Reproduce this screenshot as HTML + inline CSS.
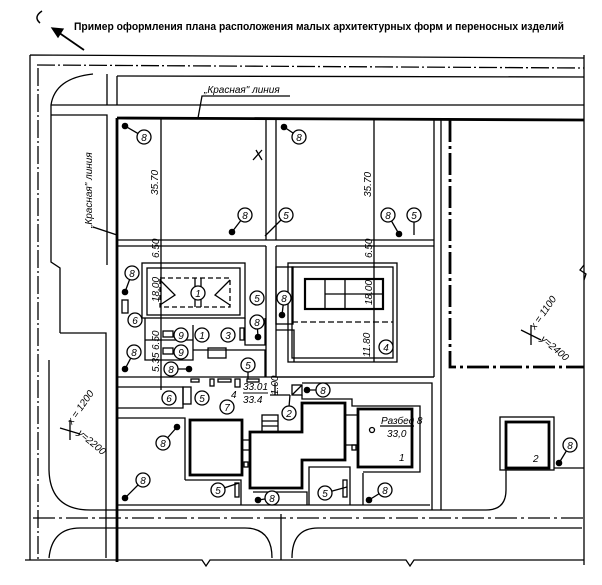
<!DOCTYPE html>
<html><head><meta charset="utf-8"><style>
html,body{margin:0;padding:0;background:#fff}
svg{display:block}
text{font-family:"Liberation Sans",sans-serif;fill:#000}
.t{font-style:italic;font-size:10px}
.n{font-style:italic;font-size:10px;text-anchor:middle}
</style></head><body>
<svg width="602" height="585" viewBox="0 0 602 585" xmlns="http://www.w3.org/2000/svg">
<defs>
<g id="c"><circle r="7" fill="#fff" stroke="#000" stroke-width="1.3"/></g>
</defs>
<g fill="none" stroke="#000" stroke-width="1.3">
<path d="M84,50 L55,30" stroke-width="1.8"/><path d="M52,28 L63,29 L58,37 Z" fill="#000"/>
<path d="M42,11 Q33,17 40,23" stroke-width="1.5"/>
<path d="M30,55 L584,58 M30,55 L30,560 M584,55 L584,565"/>
<path d="M37,65 L584,68" stroke-dasharray="18,3,2,3"/>
<path d="M38,68 L38,562" stroke-dasharray="18,3,2,3"/>
<path d="M117,76 L584,77 M93,74 Q55,78 51,105 L51,262 L60,268 L60,333"/>
<path d="M107,74 L107,105 M117,76 L117,105"/>
<path d="M51,105 L584,105"/>
<path d="M117,118 L584,120" stroke-width="2.8"/>
<path d="M51,115 L107,115 L107,265 M60,333 L106,333 L106,558"/>
<path d="M117,118 L117,562" stroke-width="2.8"/>
<path d="M49,360 L49,470 Q50,510 90,510 L486,510 Q506,510 506,490 L506,470"/>
<path d="M198,118 L202,96 L290,96"/>
<path d="M93,227 L117,235"/>
<path d="M266,120 L266,240 M276,120 L276,240"/>
<path d="M117,240 L434,240 M117,246 L266,246 M276,246 L434,246"/>
<path d="M434,120 L434,377 M441,120 L441,510"/>
<path d="M450,120 L450,367 L584,367" stroke-width="2.8" stroke-dasharray="22,4,3,4"/>
<path d="M161,118 L161,390 M374,118 L374,362"/>
<path d="M266,246 L266,377 M276,246 L276,330"/>
<rect x="142" y="263" width="103" height="55"/>
<rect x="147" y="268" width="93" height="47"/>
<rect x="160" y="278" width="70" height="29" stroke-dasharray="5,3"/>
<path d="M195,278 L195,307 M201,278 L201,307 M160,280 L175,295 L160,305 M230,280 L215,295 L230,305"/>
<rect x="288" y="263" width="109" height="99"/>
<rect x="292" y="267" width="101" height="91"/>
<rect x="305" y="279" width="78" height="30" stroke-width="2.2"/>
<path d="M325,279 L325,309 M345,279 L345,309 M325,294 L383,294"/>
<path d="M292,322 L393,322" stroke-dasharray="6,3"/>
<rect x="276" y="267" width="17" height="57"/>
<path d="M276,330 L294,330 L294,362"/>
<path d="M276,330 L276,377 L434,377"/>
<path d="M145,318 L145,360 L193,360 L193,325 M145,340 L193,340 M193,350 L265,350 L265,377 M117,377 L434,377"/>
<path d="M245,318 L245,345 L265,345 L265,318"/>
<rect x="208" y="348" width="18" height="10"/>
<rect x="240" y="328" width="4" height="12"/>
<rect x="122" y="300" width="6" height="13"/>
<rect x="163" y="331" width="10" height="6"/><rect x="163" y="348" width="10" height="6"/>
<path d="M117,387 L183,387 L183,408 L117,408 M302,383 L432,383 L432,510"/>
<rect x="183" y="387" width="8" height="17"/>
<rect x="191" y="379" width="8" height="3"/><rect x="218" y="379" width="13" height="3"/><rect x="247" y="379" width="12" height="3"/>
<rect x="210" y="379" width="4" height="7"/><rect x="235" y="379" width="5" height="8"/>
<rect x="292" y="385" width="10" height="10"/>
<path d="M292,395 L302,385 M275,383 L275,395 M270,395 L290,395 M290,395 L289,407"/>
<path d="M117,418 L185,418 L185,480 M302,395 L302,399 L352,399 L352,406 L420,406 L420,472 L363,472"/>
<rect x="190" y="420" width="52" height="55" stroke-width="2.8"/>
<path d="M250,432 L302,432 L302,403 L345,403 L345,460 L302,460 L302,488 L250,488 Z" stroke-width="2.8"/>
<rect x="358" y="409" width="54" height="58" stroke-width="2.8"/>
<path d="M242,440 L250,440 M242,450 L250,450 M345,415 L358,415 M345,445 L358,445"/>
<rect x="262" y="415" width="16" height="17"/><path d="M262,421 L278,421 M262,426 L278,426"/>
<rect x="244" y="462" width="4" height="5"/><rect x="352" y="445" width="4" height="5"/>
<circle cx="372" cy="430" r="2.5"/>
<path d="M380,426 L414,426"/>
<path d="M185,480 L241,480 L241,505 M253,492 L307,492 L307,505 M309,505 L309,467 L350,467 L350,505 M363,505 L363,473 M117,505 L430,505"/>
<rect x="235" y="483" width="4" height="14"/><rect x="343" y="480" width="4" height="17"/>
<rect x="500" y="417" width="54" height="53"/>
<rect x="506" y="422" width="43" height="46" stroke-width="2.8"/>
<path d="M554,468 L584,468"/>
<path d="M33,518 L584,518" stroke-dasharray="22,4,3,4"/>
<path d="M49,558 Q52,528 80,528 L245,528 Q272,528 272,558 M292,558 Q292,528 318,528 L582,528"/>
<path d="M281,514 L281,560"/>
<path d="M25,560 L202,560 L206,566 L210,560 L406,560 L410,566 L414,560 L584,560"/>
<path d="M584,265 L580,270 L586,274 L584,280"/>
<path d="M256,150 L262,160 M262,150 L253,160"/>
<path d="M531,325 L531,345 M521,330 L541,340"/>
<path d="M70,420 L70,440 M60,428 L80,434"/>
<path d="M125,126 L144,137 M284,127 L299,137 M232,232 L245,215 M399,234 L388,215 M265,236 L286,215 M414,235 L414,215 M125,292 L132,273 M125,369 L134,352 M189,369 L171,369 M177,427 L163,443 M125,498 L143,480 M258,500 L272,498 M369,500 L385,490 M307,390 L323,390 M559,463 L570,445 M282,315 L284,298 M258,337 L257,322 M239,483 L218,490 M347,487 L325,493 M248,379 L248,365"/>
</g>
<g fill="#000">
<circle cx="125" cy="126" r="3.3"/><circle cx="284" cy="127" r="3.3"/><circle cx="232" cy="232" r="3.3"/><circle cx="399" cy="234" r="3.3"/>
<circle cx="125" cy="292" r="3.3"/><circle cx="125" cy="369" r="3.3"/><circle cx="189" cy="369" r="3.3"/><circle cx="177" cy="427" r="3.3"/>
<circle cx="125" cy="498" r="3.3"/><circle cx="258" cy="500" r="3.3"/><circle cx="369" cy="500" r="3.3"/><circle cx="307" cy="390" r="3.3"/>
<circle cx="559" cy="463" r="3.3"/><circle cx="282" cy="315" r="3.3"/><circle cx="258" cy="337" r="3.3"/>
</g>
<g>
<use href="#c" x="144" y="137"/><use href="#c" x="299" y="137"/><use href="#c" x="245" y="215"/><use href="#c" x="388" y="215"/>
<use href="#c" x="286" y="215"/><use href="#c" x="414" y="215"/><use href="#c" x="132" y="273"/><use href="#c" x="198" y="293"/>
<use href="#c" x="257" y="298"/><use href="#c" x="284" y="298"/><use href="#c" x="257" y="322"/><use href="#c" x="135" y="320"/>
<use href="#c" x="181" y="335"/><use href="#c" x="181" y="352"/><use href="#c" x="202" y="335"/><use href="#c" x="228" y="335"/>
<use href="#c" x="134" y="352"/><use href="#c" x="171" y="369"/><use href="#c" x="386" y="347"/><use href="#c" x="248" y="365"/>
<use href="#c" x="169" y="398"/><use href="#c" x="202" y="398"/><use href="#c" x="227" y="407"/><use href="#c" x="289" y="413"/>
<use href="#c" x="323" y="390"/><use href="#c" x="163" y="443"/><use href="#c" x="143" y="480"/><use href="#c" x="218" y="490"/>
<use href="#c" x="272" y="498"/><use href="#c" x="325" y="493"/><use href="#c" x="385" y="490"/><use href="#c" x="570" y="445"/>
</g>
<g>
<text x="144" y="141" class="n">8</text><text x="299" y="141" class="n">8</text><text x="245" y="219" class="n">8</text><text x="388" y="219" class="n">8</text>
<text x="286" y="219" class="n">5</text><text x="414" y="219" class="n">5</text><text x="132" y="277" class="n">8</text><text x="198" y="297" class="n">1</text>
<text x="257" y="302" class="n">5</text><text x="284" y="302" class="n">8</text><text x="257" y="326" class="n">8</text><text x="135" y="324" class="n">6</text>
<text x="181" y="339" class="n">9</text><text x="181" y="356" class="n">9</text><text x="202" y="339" class="n">1</text><text x="228" y="339" class="n">3</text>
<text x="134" y="356" class="n">8</text><text x="171" y="373" class="n">8</text><text x="386" y="351" class="n">4</text><text x="248" y="369" class="n">5</text>
<text x="169" y="402" class="n">6</text><text x="202" y="402" class="n">5</text><text x="227" y="411" class="n">7</text><text x="289" y="417" class="n">2</text>
<text x="323" y="394" class="n">8</text><text x="163" y="447" class="n">8</text><text x="143" y="484" class="n">8</text><text x="218" y="494" class="n">5</text>
<text x="272" y="502" class="n">8</text><text x="325" y="497" class="n">5</text><text x="385" y="494" class="n">8</text><text x="570" y="449" class="n">8</text>
</g>
<text x="74" y="30" font-size="11" font-weight="bold" textLength="490" lengthAdjust="spacingAndGlyphs">Пример оформления плана расположения малых архитектурных форм и переносных изделий</text>
<text x="204" y="93" class="t">„Красная" линия</text>
<text class="t" transform="translate(92,228) rotate(-90)">„Красная" линия</text>
<text class="t" font-size="9" transform="translate(158,195) rotate(-90)">35.70</text>
<text class="t" font-size="9" transform="translate(371,197) rotate(-90)">35.70</text>
<text class="t" font-size="7" transform="translate(159,258) rotate(-90)">6.50</text>
<text class="t" font-size="7" transform="translate(372,258) rotate(-90)">6.50</text>
<text class="t" font-size="7" transform="translate(159,302) rotate(-90)">18.00</text>
<text class="t" font-size="8" transform="translate(372,305) rotate(-90)">18.00</text>
<text class="t" font-size="8" transform="translate(370,357) rotate(-90)">11.80</text>
<text class="t" font-size="7" transform="translate(159,350) rotate(-90)">6.50</text>
<text class="t" font-size="7" transform="translate(159,372) rotate(-90)">5.35</text>
<text class="t" font-size="7" transform="translate(278,395) rotate(-90)">1.00</text>
<text x="243" y="390" class="t" font-size="9">33.01</text>
<path d="M243,393 L268,393" stroke="#000"/>
<text x="243" y="403" class="t" font-size="9">33.4</text>
<text x="231" y="398" class="t" font-size="8">4</text>
<text x="381" y="424" class="t" font-size="9">Разбед 8</text>
<text x="387" y="437" class="t" font-size="9">33,0</text>
<text x="399" y="461" class="t" font-size="13">1</text>
<text x="533" y="462" class="t" font-size="13">2</text>
<text class="t" font-size="7" transform="translate(535,330) rotate(-55)">x = 1100</text>
<text class="t" font-size="7" transform="translate(540,340) rotate(40)">y=2400</text>
<text class="t" font-size="7" transform="translate(72,425) rotate(-55)">x = 1200</text>
<text class="t" font-size="7" transform="translate(77,434) rotate(40)">y=2200</text>
</svg>
</body></html>
